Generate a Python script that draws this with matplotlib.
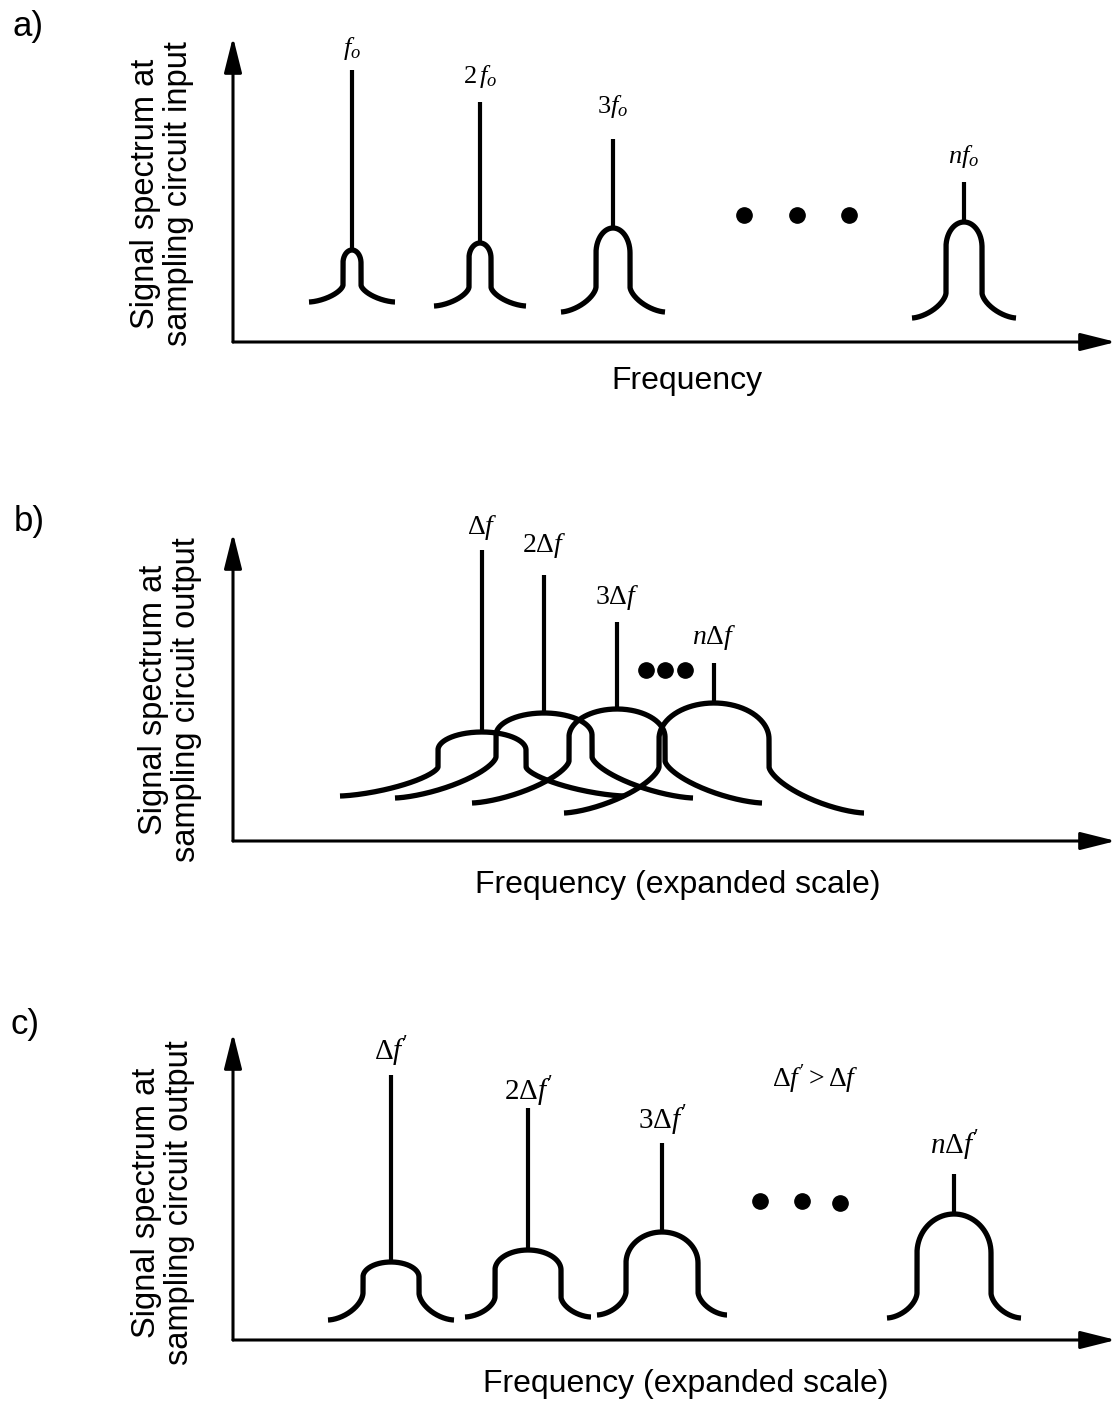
import numpy as np
import matplotlib.pyplot as plt

plt.rcParams['font.family'] = ['Liberation Sans', 'DejaVu Sans']
plt.rcParams['mathtext.fontset'] = 'custom'
plt.rcParams['mathtext.rm'] = 'Liberation Serif'
plt.rcParams['mathtext.it'] = 'Liberation Serif:italic'

# ---- panel a: input spectrum ----
a_centers = [119, 247, 380, 731]
a_line_tops = [272, 240, 203, 160]
a_bump_tops = [92, 99, 114, 120]
a_side_tops = [79, 84, 89, 95]
a_side_bottoms = [57, 55, 55, 49]
a_bases = [40, 36, 30, 24]
a_spans = [43, 46, 52, 52]
a_widths = [9, 11, 17, 18]
a_labels = ['$f_o$', '$2\\,f_o$', '$3f_o$', '$nf_o$']
a_label_y = [294, 266, 236, 185]
a_dots_x = [511, 564, 616]
a_dots_y = [127, 127, 127]

# ---- panel b: output spectrum, overlapping ----
b_centers = [249, 311, 384, 481]
b_line_tops = [291, 266, 219, 178]
b_bump_tops = [109, 128, 132, 138]
b_side_tops = [91, 106, 104, 102]
b_side_bottoms = [74, 84, 80, 74]
b_bases = [45, 43, 38, 28]
b_spans = [142, 149, 145, 150]
b_widths = [44, 48, 48, 55]
b_labels = ['$\\Delta f$', '$2\\Delta f$', '$3\\Delta f$', '$n\\Delta f$']
b_label_y = [313, 296, 244, 203]
b_dots_x = [413, 432, 452]
b_dots_y = [171, 171, 171]

# ---- panel c: output spectrum, larger offset ----
c_centers = [158, 295, 429, 721]
c_line_tops = [265, 232, 197, 166]
c_bump_tops = [78, 90, 108, 126]
c_side_tops = [63, 70, 77, 87]
c_side_bottoms = [47, 43, 48, 47]
c_bases = [20, 23, 25, 22]
c_spans = [63, 63, 65, 67]
c_widths = [28, 33, 36, 37]
c_labels = ["$\\Delta f'$", "$2\\Delta f'$", "$3\\Delta f'$", "$n\\Delta f'$"]
c_label_y = [288, 248, 219, 194]
c_dots_x = [527, 569, 607]
c_dots_y = [139, 139, 137]


def bump_curve(xc, top, ys, yf, base, span, w, r):
    # elliptic dome, short vertical sides, feet curling out to flat ends
    t = np.linspace(0, np.pi / 2, 80)
    fx = span - (span - w) * np.cos(t) ** (2 / r)
    fy = yf - (yf - base) * np.sin(t) ** (2 / r)
    td = np.linspace(np.pi, 0, 160)
    dx = w * np.cos(td)
    dy = ys + (top - ys) * np.sin(td)
    x = np.concatenate([-fx[::-1], dx, fx])
    y = np.concatenate([fy[::-1], dy, fy])
    return xc + x, y


W, H = 1116, 1403
x0 = 233
fig = plt.figure(figsize=(W / 100, H / 100), dpi=100)

panels = [
    (342, 37, a_centers, a_line_tops, a_bump_tops, a_side_tops, a_side_bottoms,
     a_bases, a_spans, a_widths, a_labels, a_label_y, a_dots_x, a_dots_y, 1.6, 19),
    (841, 533, b_centers, b_line_tops, b_bump_tops, b_side_tops, b_side_bottoms,
     b_bases, b_spans, b_widths, b_labels, b_label_y, b_dots_x, b_dots_y, 1.5, 20),
    (1340, 1033, c_centers, c_line_tops, c_bump_tops, c_side_tops, c_side_bottoms,
     c_bases, c_spans, c_widths, c_labels, c_label_y, c_dots_x, c_dots_y, 1.7, 21),
]

arrow = dict(arrowstyle='-|>,head_length=1.2,head_width=0.3', lw=2.2,
             color='black', shrinkA=0, shrinkB=0, mutation_scale=18)

for (y0, ytop, cs, lt, bt, st, sb, bs, sp, wd, labs, ly, dx, dy, rf, fs) in panels:
    ax = fig.add_axes([x0 / W, 1 - y0 / H, (W - x0) / W, (y0 - ytop) / H])
    ax.set_xlim(0, W - x0)
    ax.set_ylim(0, y0 - ytop)
    ax.axis('off')
    ax.annotate('', xy=(0, y0 - ytop), xytext=(0, 0), arrowprops=arrow,
                annotation_clip=False)
    ax.annotate('', xy=(W - x0, 0), xytext=(0, 0), arrowprops=arrow,
                annotation_clip=False)
    for i in range(len(cs)):
        bx, by = bump_curve(cs[i], bt[i], st[i], sb[i], bs[i], sp[i], wd[i], rf)
        ax.plot(bx, by, color='black', lw=3.8, solid_capstyle='butt',
                solid_joinstyle='round', clip_on=False)
        ax.plot([cs[i], cs[i]], [bt[i], lt[i]], color='black', lw=3,
                solid_capstyle='butt', clip_on=False)
        ax.text(cs[i], ly[i], labs[i], ha='center', va='center', fontsize=fs)
    ax.plot(dx, dy, 'o', color='black', ms=11, clip_on=False)
    if y0 == 1340:
        ax.text(582, 261, "$\\Delta f' > \\Delta f$", ha='center', va='center',
                fontsize=20)

# axis titles and panel letters
fig.text(687 / W, 1 - 381 / H, 'Frequency', ha='center', va='center', fontsize=23)
fig.text(678 / W, 1 - 885 / H, 'Frequency (expanded scale)', ha='center',
         va='center', fontsize=23)
fig.text(686 / W, 1 - 1384 / H, 'Frequency (expanded scale)', ha='center',
         va='center', fontsize=23)

ylab_kw = dict(rotation=90, ha='center', va='center', fontsize=23.5,
               linespacing=1.1, multialignment='center')
fig.text(162 / W, 1 - 194 / H, 'Signal spectrum at\nsampling circuit input', **ylab_kw)
fig.text(170 / W, 1 - 700 / H, 'Signal spectrum at\nsampling circuit output', **ylab_kw)
fig.text(163 / W, 1 - 1203 / H, 'Signal spectrum at\nsampling circuit output', **ylab_kw)

fig.text(12 / W, 1 - 10 / H, 'a)', ha='left', va='top', fontsize=25)
fig.text(14 / W, 1 - 505 / H, 'b)', ha='left', va='top', fontsize=25)
fig.text(10 / W, 1 - 1008 / H, 'c)', ha='left', va='top', fontsize=25)

fig.savefig('out.png', dpi=100)
